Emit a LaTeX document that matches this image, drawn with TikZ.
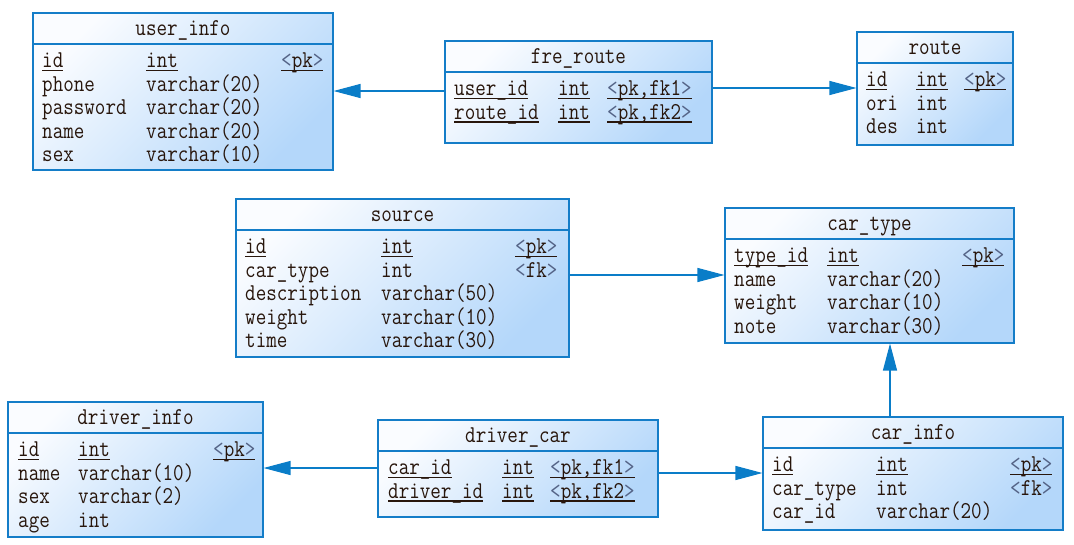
\documentclass[tikz,border=0pt]{standalone}
\usepackage{fontspec}
\usepackage{graphicx}
\usetikzlibrary{arrows.meta,fit}
\definecolor{bordc}{RGB}{20,125,200}
\definecolor{arrc}{RGB}{10,125,200}
\definecolor{topc}{RGB}{250,252,255}
\definecolor{botc}{RGB}{180,215,250}
\definecolor{txtc}{RGB}{40,22,12}
\definecolor{brc}{RGB}{85,100,135}
\newsavebox\ulbox
\newcommand\ulx[1]{\sbox\ulbox{#1}\rlap{\textcolor{txtc}{\rule[-3pt]{\wd\ulbox}{1.1pt}}}\usebox\ulbox}
\newcommand\pkt[1]{\textcolor{brc}{<}#1\textcolor{brc}{>}}
\newcommand\sx[1]{\scalebox{1}[1.18]{#1}}
\newcommand\cellfont{\fontsize{20.5}{24}\ttfamily\addfontfeatures{FakeBold=1.2}}
\tikzset{
  tblbox/.style={draw=bordc, line width=1.1pt, inner sep=0pt, shade, top color=topc, bottom color=botc, shading angle=45},
  tblline/.style={draw=bordc, line width=1.1pt},
  ttl/.style={anchor=base, inner sep=0pt, font=\cellfont, text=txtc},
  cell/.style={anchor=base west, inner sep=0pt, font=\cellfont, text=txtc},
  fk/.style={draw=arrc, line width=1.2pt, -{Triangle[length=27pt,width=14pt]}}
}
% name, x1, y1, x2, y2, sep, title
\newcommand\tbl[7]{%
  \node[tblbox, fit={(#2,#3) (#4,#5)}] (#1) {};
  \draw[tblline] (#1.west |- 0,#6) -- (#1.east |- 0,#6);
  \node[ttl] (#1-title) at ({(#2+#4)/2},{#3+22}) {\sx{#7}};
}
% name, baseline, x1, x2, t1, t2
\newcommand\rowii[6]{%
  \node[cell] (#1-a) at (#3,#2) {\sx{#5}};
  \node[cell] (#1-b) at (#4,#2) {\sx{#6}};
}
% name, baseline, x1, x2, x3, t1, t2, t3
\newcommand\rowiii[8]{%
  \node[cell] (#1-a) at (#3,#2) {\sx{#6}};
  \node[cell] (#1-b) at (#4,#2) {\sx{#7}};
  \node[cell] (#1-c) at (#5,#2) {\sx{#8}};
}
\begin{document}
\begin{tikzpicture}[x=1pt,y=-1pt]
\useasboundingbox (0,0) rectangle (1074,544);
\fill[white] (0,0) rectangle (1074,544);

% user_info
\tbl{user}{33}{13}{333}{170}{44}{user\_info}
\rowiii{u1}{67.5}{42}{146}{281}{\ulx{id}}{\ulx{int}}{\ulx{\pkt{pk}}}
\rowii{u2}{91}{42}{146}{phone}{varchar(20)}
\rowii{u3}{114.5}{42}{146}{password}{varchar(20)}
\rowii{u4}{138}{42}{146}{name}{varchar(20)}
\rowii{u5}{161.5}{42}{146}{sex}{varchar(10)}

% fre_route
\tbl{fre}{445}{41}{712}{143}{72}{fre\_route}
\rowiii{f1}{95.5}{454}{558}{607}{\ulx{user\_id}}{\ulx{int}}{\ulx{\pkt{pk,fk1}}}
\rowiii{f2}{119}{454}{558}{607}{\ulx{route\_id}}{\ulx{int}}{\ulx{\pkt{pk,fk2}}}

% route
\tbl{route}{857}{32}{1013}{145}{63}{route}
\rowiii{r1}{86.5}{866}{916}{964}{\ulx{id}}{\ulx{int}}{\ulx{\pkt{pk}}}
\rowii{r2}{110}{866}{916}{ori}{int}
\rowii{r3}{133.5}{866}{916}{des}{int}

% source
\tbl{src}{236}{199}{569}{357}{230}{source}
\rowiii{s1}{253.5}{245}{381}{515}{\ulx{id}}{\ulx{int}}{\ulx{\pkt{pk}}}
\rowiii{s2}{277}{245}{381}{515}{car\_type}{int}{\pkt{fk}}
\rowii{s3}{300.5}{245}{381}{description}{varchar(50)}
\rowii{s4}{324}{245}{381}{weight}{varchar(10)}
\rowii{s5}{347.5}{245}{381}{time}{varchar(30)}

% car_type
\tbl{ctype}{725}{208}{1014}{343}{239}{car\_type}
\rowiii{c1}{262.5}{734}{827}{962}{\ulx{type\_id}}{\ulx{int}}{\ulx{\pkt{pk}}}
\rowii{c2}{286}{734}{827}{name}{varchar(20)}
\rowii{c3}{309.5}{734}{827}{weight}{varchar(10)}
\rowii{c4}{333}{734}{827}{note}{varchar(30)}

% driver_info
\tbl{dinfo}{8}{402}{263}{537}{433}{driver\_info}
\rowiii{d1}{456.5}{18}{78}{213}{\ulx{id}}{\ulx{int}}{\ulx{\pkt{pk}}}
\rowii{d2}{480}{18}{78}{name}{varchar(10)}
\rowii{d3}{503.5}{18}{78}{sex}{varchar(2)}
\rowii{d4}{527}{18}{78}{age}{int}

% driver_car
\tbl{dcar}{378}{420}{658}{517}{451}{driver\_car}
\rowiii{e1}{474.5}{388}{502}{550}{\ulx{car\_id}}{\ulx{int}}{\ulx{\pkt{pk,fk1}}}
\rowiii{e2}{498}{388}{502}{550}{\ulx{driver\_id}}{\ulx{int}}{\ulx{\pkt{pk,fk2}}}

% car_info
\tbl{cinfo}{763}{417}{1063}{530}{448}{car\_info}
\rowiii{i1}{471.5}{772}{876}{1010}{\ulx{id}}{\ulx{int}}{\ulx{\pkt{pk}}}
\rowiii{i2}{495}{772}{876}{1010}{car\_type}{int}{\pkt{fk}}
\rowii{i3}{518.5}{772}{876}{car\_id}{varchar(20)}

% connectors
\draw[fk] (fre.west |- 0,91) -- (user.east |- 0,91);
\draw[fk] (fre.east |- 0,88) -- (route.west |- 0,88);
\draw[fk] (src.east |- 0,275) -- (ctype.west |- 0,275);
\draw[fk] (cinfo.north -| 890,0) -- (ctype.south -| 890,0);
\draw[fk] (dcar.west |- 0,468) -- (dinfo.east |- 0,468);
\draw[fk] (dcar.east |- 0,473) -- (cinfo.west |- 0,473);
\end{tikzpicture}
\end{document}
